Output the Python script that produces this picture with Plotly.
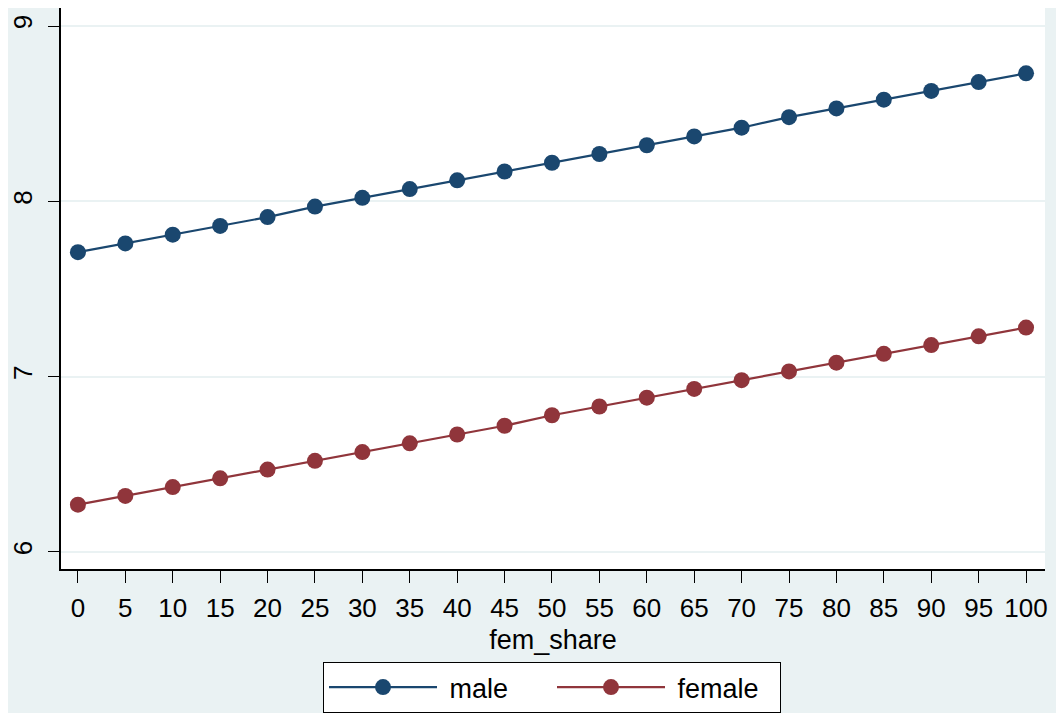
import plotly.graph_objects as go

fem_share = [0, 5, 10, 15, 20, 25, 30, 35, 40, 45, 50, 55, 60, 65, 70, 75, 80, 85, 90, 95, 100]
male = [7.71, 7.76, 7.81, 7.86, 7.91, 7.97, 8.02, 8.07, 8.12, 8.17, 8.22,
        8.27, 8.32, 8.37, 8.42, 8.48, 8.53, 8.58, 8.63, 8.68, 8.73]
female = [6.27, 6.32, 6.37, 6.42, 6.47, 6.52, 6.57, 6.62, 6.67, 6.72, 6.78,
          6.83, 6.88, 6.93, 6.98, 7.03, 7.08, 7.13, 7.18, 7.23, 7.28]
y_ticks = [6, 7, 8, 9]

W, H = 1064, 713
ML, MR, MT, MB = 49, 27, 0, 152
PW, PH = W - ML - MR, H - MT - MB
BG = "#EAF2F3"
FONT = "Liberation Sans, Arial, sans-serif"
NB = "\u00a0"

fig = go.Figure()
fig.add_trace(go.Scatter(x=fem_share, y=male, name=NB + "male", mode="lines+markers",
                         line=dict(color="#1A476F", width=2.2),
                         marker=dict(color="#1A476F", size=16)))
fig.add_trace(go.Scatter(x=fem_share, y=female, name=NB + "female", mode="lines+markers",
                         line=dict(color="#90353B", width=2.2),
                         marker=dict(color="#90353B", size=16)))

fig.update_layout(
    width=W, height=H,
    margin=dict(l=ML, r=MR, t=MT, b=MB),
    paper_bgcolor=BG, plot_bgcolor="white",
    font=dict(family=FONT, size=27, color="black"),
    showlegend=True,
    legend=dict(orientation="h", x=(542 - ML) / PW, xanchor="center",
                y=(PH - (654 - MT)) / PH, yanchor="top",
                bgcolor="white", bordercolor="black", borderwidth=1,
                itemwidth=108, entrywidth=105, entrywidthmode="pixels",
                font=dict(size=27, family=FONT), itemclick=False),
    xaxis=dict(range=[-1.786, 102.0], tickvals=fem_share, ticks="outside",
               ticklen=12, tickcolor="black", showline=True, linecolor="black",
               linewidth=1.5, showgrid=False, zeroline=False,
               tickfont=dict(size=26), ticklabelstandoff=3,
               title=dict(text="fem_share", font=dict(size=27), standoff=8)),
    yaxis=dict(range=[5.903, 9.1027], tickvals=y_ticks, ticks="outside",
               ticklen=11, tickcolor="black", showline=True, linecolor="black",
               linewidth=1.5, showgrid=True, gridcolor=BG, gridwidth=2,
               zeroline=False, tickangle=-90, tickfont=dict(size=26),
               ticklabelstandoff=6),
)

fig.write_html("out.html")
